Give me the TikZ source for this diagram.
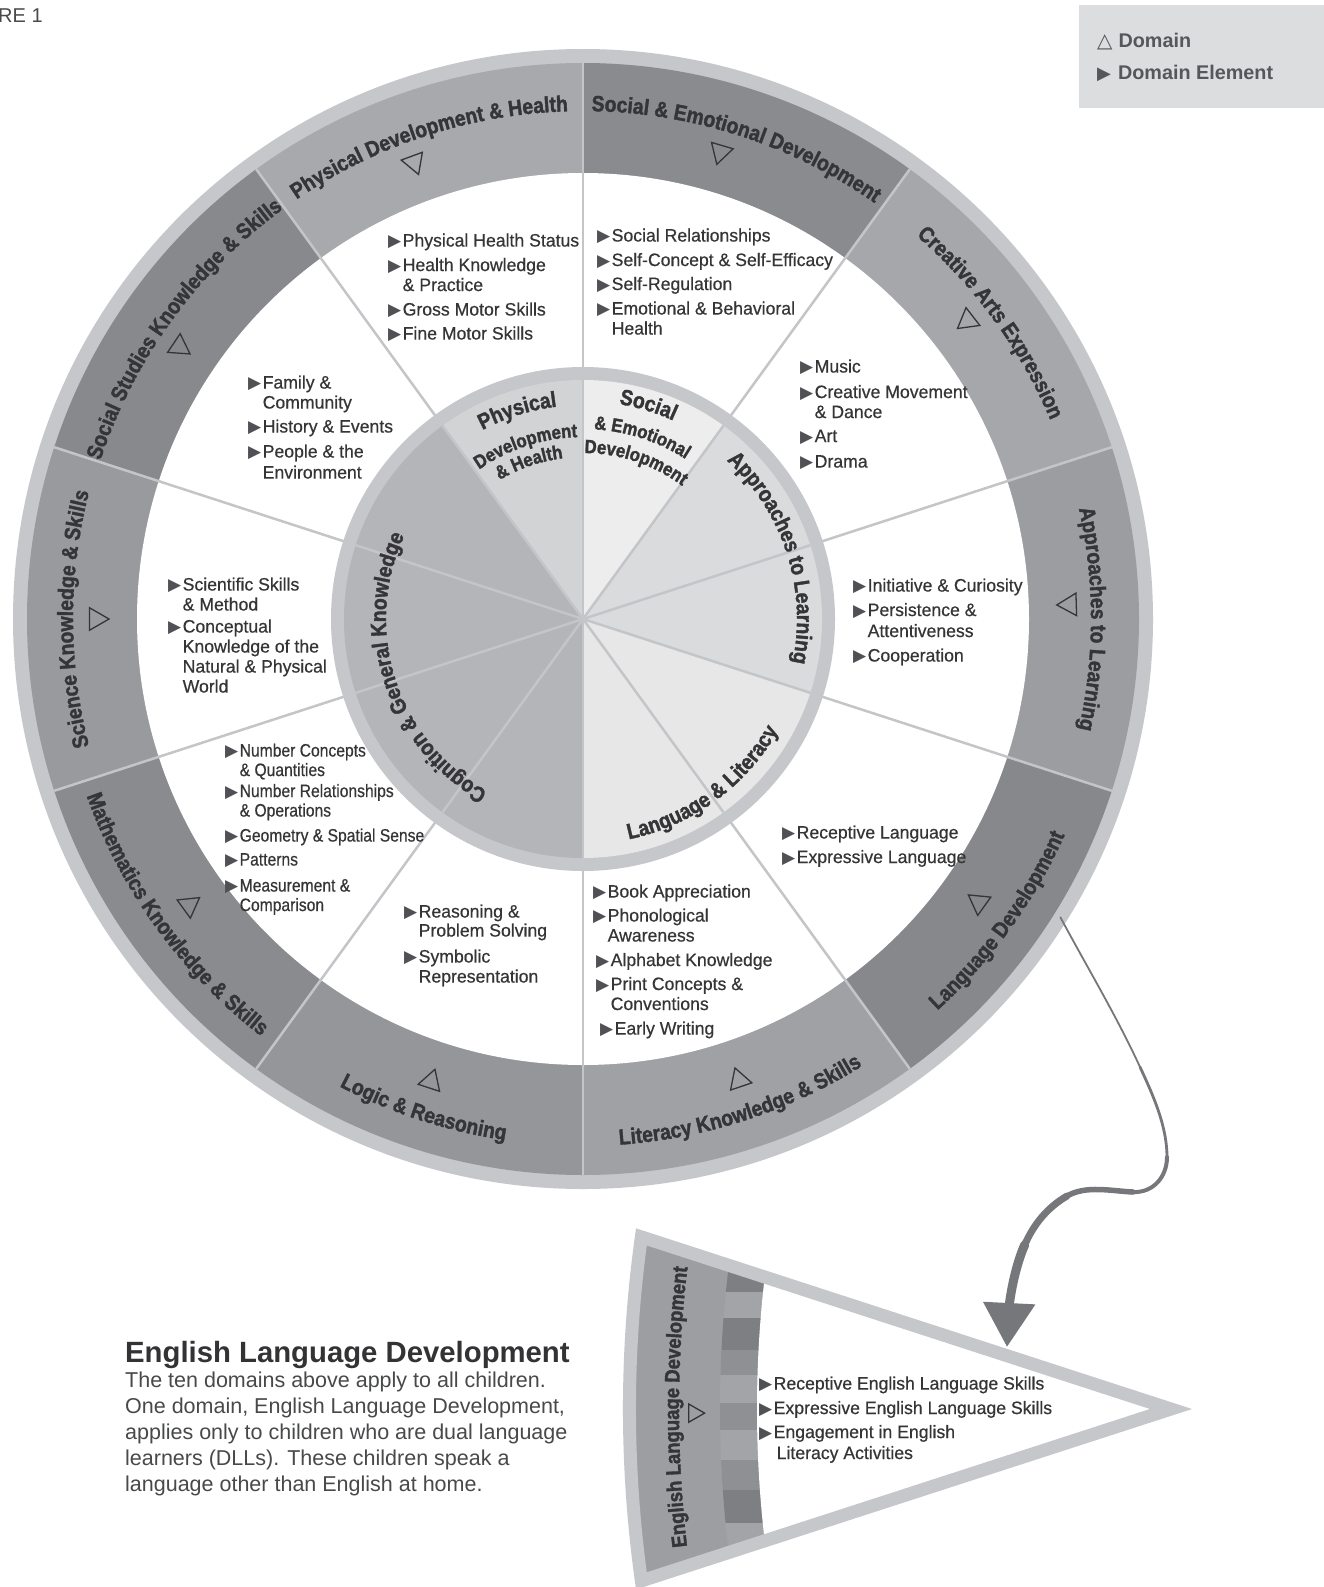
\documentclass[tikz,border=0pt]{standalone}
\usepackage{fontspec}
\setmainfont{Liberation Sans}
\newfontfamily\lblfam[FakeStretch=0.88,BoldFeatures={FakeBold=1.6}]{Liberation Sans}
\newfontfamily\elfam[FakeStretch=0.98,FakeBold=0.5]{Liberation Sans}
\newfontfamily\elnarrow[FakeStretch=0.87,FakeBold=0.5]{Liberation Sans}
\newfontfamily\symfam{DejaVu Sans}
\usetikzlibrary{shapes.geometric,arrows.meta}

\definecolor{txt}{HTML}{353537}
\definecolor{mkc}{HTML}{505154}
\definecolor{ringc}{HTML}{C6C7CA}
\definecolor{divc}{HTML}{C4C5C8}
\definecolor{legbg}{HTML}{DCDDDF}
\definecolor{legtx}{HTML}{56575A}
\definecolor{bPhys}{HTML}{A8A9AD}
\definecolor{bSoc}{HTML}{8A8B8F}
\definecolor{bCre}{HTML}{A6A7AB}
\definecolor{bApp}{HTML}{9C9DA1}
\definecolor{bLang}{HTML}{87888C}
\definecolor{bLit}{HTML}{A0A1A5}
\definecolor{bLog}{HTML}{95969A}
\definecolor{bMath}{HTML}{8A8B8F}
\definecolor{bSci}{HTML}{999A9E}
\definecolor{bSS}{HTML}{88898D}
\definecolor{pPhys}{HTML}{D2D3D5}
\definecolor{pSoc}{HTML}{EDEDEE}
\definecolor{pApp}{HTML}{DADBDD}
\definecolor{pLang}{HTML}{E7E7E8}
\definecolor{pCog}{HTML}{B4B5B8}
\definecolor{arrc}{HTML}{76777B}
\definecolor{wband}{HTML}{9D9EA2}
\definecolor{sdk}{HTML}{7E7F83}
\definecolor{smd}{HTML}{8F9094}
\definecolor{slt}{HTML}{A3A4A8}
\definecolor{headc}{HTML}{333335}
\definecolor{bodyc}{HTML}{48494B}
\definecolor{figc}{HTML}{4A4A4C}

\newcommand\lbl{\lblfam\bfseries\fontsize{22}{22}\selectfont}
\newcommand\lblm{\lblfam\bfseries\fontsize{19}{19}\selectfont}
\newcommand\lblw{\lblfam\bfseries\fontsize{21}{21}\selectfont}
\newcommand\mk{\makebox[14.5pt][l]{\color{mkc}\symfam\fontsize{17}{17}\selectfont ▶}}
\newcommand\ind{\hspace*{14.5pt}}
\newcommand\fst{\rule{0pt}{13pt}}

% curved text: #1 centre angle, #2 baseline radius, #3 font, #4 1 = clockwise (tops outward) / -1 = counter-clockwise (tops inward), #5 text (~ = space)
\newdimen\arctot
\newdimen\arcch
\makeatletter
\newcommand\arclabel[5]{%
  \begingroup
  \pgfinterruptpicture\setbox0=\hbox{#3#5}\global\arctot=\wd0 \endpgfinterruptpicture
  \pgfmathsetmacro\arck{57.29578/#2}%
  \pgfmathsetmacro\arcpos{#1+(#4)*0.5*\arctot*\arck}%
  \@tfor\arcc:=#5\do{%
    \pgfinterruptpicture\setbox0=\hbox{#3\arcc}\global\arcch=\wd0 \endpgfinterruptpicture
    \pgfmathsetmacro\arcmid{\arcpos-(#4)*0.5*\arcch*\arck}%
    \pgfmathsetmacro\arcrot{\arcmid-(#4)*90}%
    \pgftext[base,at={\pgfpointpolar{\arcmid}{#2pt}},rotate=\arcrot]{#3\color{txt}\arcc}%
    \pgfmathsetmacro\arcpos{\arcpos-(#4)*\arcch*\arck}%
  }%
  \endgroup
}
\makeatother

\tikzset{
 divline/.style={draw=divc, line width=2.5pt},
 domtri/.style={draw=txt, line width=1.3pt, regular polygon, regular polygon sides=3, minimum size=26pt, inner sep=0pt},
 elist/.style={anchor=north west, inner sep=0pt, align=left, text=txt, font=\elfam\fontsize{18}{20}\selectfont},
 arr/.style={draw=arrc, line cap=round},
 legtxt/.style={anchor=base west, inner sep=0pt, text=legtx, font=\bfseries\fontsize{19.8}{19.8}\selectfont},
}

\begin{document}
\begin{tikzpicture}[x=1pt,y=1pt]
\useasboundingbox (0,0) rectangle (1324,-1587);
\clip (0,0) rectangle (1324,-1587);
\fill[white] (0,0) rectangle (1324,-1587);

\node[anchor=base west, inner sep=0pt, text=figc, font=\fontsize{20}{20}\selectfont] (fig) at (-2,-23) {RE 1};

% legend
\fill[legbg] (1079,-5) rectangle (1324,-108);
\node[legtxt] (legDomain) at (1097,-48) {{\symfam\fontsize{20}{20}\selectfont △}\hspace{6pt}Domain};
\node[legtxt] (legElem) at (1097,-80) {{\symfam\fontsize{18}{18}\selectfont ▶}\hspace{7pt}Domain Element};

% ===== wheel =====
\begin{scope}[shift={(583,-619)}]
\coordinate (C) at (0,0);
\fill[ringc] (0,0) circle[radius=570];
\fill[bPhys] (0,0) -- (90:556) arc[start angle=90,end angle=126,radius=556] -- cycle;
\fill[bSoc] (0,0) -- (54:556) arc[start angle=54,end angle=90,radius=556] -- cycle;
\fill[bCre] (0,0) -- (18:556) arc[start angle=18,end angle=54,radius=556] -- cycle;
\fill[bApp] (0,0) -- (-18:556) arc[start angle=-18,end angle=18,radius=556] -- cycle;
\fill[bLang] (0,0) -- (-54:556) arc[start angle=-54,end angle=-18,radius=556] -- cycle;
\fill[bLit] (0,0) -- (-90:556) arc[start angle=-90,end angle=-54,radius=556] -- cycle;
\fill[bLog] (0,0) -- (234:556) arc[start angle=234,end angle=270,radius=556] -- cycle;
\fill[bMath] (0,0) -- (198:556) arc[start angle=198,end angle=234,radius=556] -- cycle;
\fill[bSci] (0,0) -- (162:556) arc[start angle=162,end angle=198,radius=556] -- cycle;
\fill[bSS] (0,0) -- (126:556) arc[start angle=126,end angle=162,radius=556] -- cycle;
\fill[white] (0,0) circle[radius=446];
\foreach \a in {18,54,...,342} \draw[divline] (0,0) -- (\a:556);

\fill[ringc] (0,0) circle[radius=252];
\fill[pPhys] (0,0) -- (90:239) arc[start angle=90,end angle=126,radius=239] -- cycle;
\fill[pSoc] (0,0) -- (54:239) arc[start angle=54,end angle=90,radius=239] -- cycle;
\fill[pApp] (0,0) -- (-18:239) arc[start angle=-18,end angle=54,radius=239] -- cycle;
\fill[pLang] (0,0) -- (-90:239) arc[start angle=-90,end angle=-18,radius=239] -- cycle;
\fill[pCog] (0,0) -- (126:239) arc[start angle=126,end angle=270,radius=239] -- cycle;
\foreach \a in {18,54,...,342} \draw[divline] (0,0) -- (\a:239);

% domain triangles
\node[domtri, rotate=200.3] (tPhys) at (110.3:487) {};
\node[domtri, rotate=163.6] (tSoc) at (73.6:487) {};
\node[domtri, rotate=127.8] (tCre) at (37.8:487) {};
\node[domtri, rotate=91.7] (tApp) at (1.7:487) {};
\node[domtri, rotate=54.4] (tLang) at (-35.6:487) {};
\node[domtri, rotate=18.7] (tLit) at (-71.3:487) {};
\node[domtri, rotate=341.8] (tLog) at (251.8:487) {};
\node[domtri, rotate=306] (tMath) at (216:487) {};
\node[domtri, rotate=270] (tSci) at (180:487) {};
\node[domtri, rotate=236] (tSS) at (146:487) {};

% outer domain labels
\arclabel{108}{508}{\lbl}{1}{Physical~Development~\&~Health}
\arclabel{72}{508}{\lbl}{1}{Social~\&~Emotional~Development}
\arclabel{36}{508}{\lbl}{1}{Creative~Arts~Expression}
\arclabel{0}{508}{\lbl}{1}{Approaches~to~Learning}
\arclabel{-36}{528}{\lbl}{-1}{Language~Development}
\arclabel{-72}{527}{\lbl}{-1}{Literacy~Knowledge~\&~Skills}
\arclabel{252}{527}{\lbl}{-1}{Logic~\&~Reasoning}
\arclabel{216}{527}{\lbl}{-1}{Mathematics~Knowledge~\&~Skills}
\arclabel{180}{510}{\lbl}{1}{Science~Knowledge~\&~Skills}
\arclabel{144}{508}{\lbl}{1}{Social~Studies~Knowledge~\&~Skills}

% central labels
\arclabel{107.5}{214}{\lbl}{1}{Physical}
\arclabel{108.3}{182}{\lblm}{1}{Development}
\arclabel{109}{162}{\lblm}{1}{\&~Health}
\arclabel{73}{218}{\lbl}{1}{Social}
\arclabel{72}{190}{\lblm}{1}{\&~Emotional}
\arclabel{71.4}{166}{\lblm}{1}{Development}
\arclabel{18}{214}{\lbl}{1}{Approaches~to~Learning}
\arclabel{-54}{225}{\lbl}{-1}{Language~\&~Literacy}
\arclabel{198}{197}{\lbl}{1}{Cognition~\&~General~Knowledge}
\end{scope}

% ===== element lists =====
\node[elist] (elPhys) at (388,-233.3) {\fst\mk Physical Health Status\\[4.5pt]\mk Health Knowledge\\\ind\& Practice\\[4.5pt]\mk Gross Motor Skills\\[4pt]\mk Fine Motor Skills};
\node[elist] (elSoc) at (597,-228.3) {\fst\mk Social Relationships\\[4.5pt]\mk Self-Concept \& Self-Efficacy\\[4pt]\mk Self-Regulation\\[4.5pt]\mk Emotional \& Behavioral\\\ind Health};
\node[elist] (elCre) at (800,-359.3) {\fst\mk Music\\[5.5pt]\mk Creative Movement\\\ind\& Dance\\[4pt]\mk Art\\[5.5pt]\mk Drama};
\node[elist] (elApp) at (853,-578.3) {\fst\mk Initiative \& Curiosity\\[4.5pt]\mk Persistence \&\\[1pt]\ind Attentiveness\\[4.5pt]\mk Cooperation};
\node[elist] (elLang) at (782,-825.3) {\fst\mk Receptive Language\\[4.5pt]\mk Expressive Language};
\node[elist] (elLit) at (593,-884.3) {\fst\mk Book Appreciation\\[4pt]\mk Phonological\\\ind Awareness\\[4.5pt]\hspace*{3pt}\mk Alphabet Knowledge\\[4pt]\hspace*{3pt}\mk Print Concepts \&\\\hspace*{3pt}\ind Conventions\\[4.5pt]\hspace*{7pt}\mk Early Writing};
\node[elist] (elLog) at (404,-904.3) {\fst\mk Reasoning \&\\[-1pt]\ind Problem Solving\\[6pt]\mk Symbolic\\\ind Representation};
\node[elist, font=\elnarrow\fontsize{18}{19.5}\selectfont] (elMath) at (225,-743.3) {\fst\mk Number Concepts\\\ind\& Quantities\\[1.5pt]\mk Number Relationships\\\ind\& Operations\\[5.5pt]\mk Geometry \& Spatial Sense\\[4.5pt]\mk Patterns\\[6.5pt]\mk Measurement \&\\\ind Comparison};
\node[elist] (elSci) at (168,-577.3) {\fst\mk Scientific Skills\\\ind\& Method\\[2pt]\mk Conceptual\\\ind Knowledge of the\\\ind Natural \& Physical\\\ind World};
\node[elist] (elSS) at (248,-375.3) {\fst\mk Family \&\\\ind Community\\[4pt]\mk History \& Events\\[5pt]\mk People \& the\\[1pt]\ind Environment};

% ===== ELD wedge =====
\coordinate (Wa) at (1171,-1409);
\coordinate (Wc) at (1873,-1409);
\begin{scope}
  \clip (1171,-1409) -- (410.2,-1161.8) -- (410.2,-1656.2) -- cycle;
  \fill[wband] (Wc) circle[radius=1243.5];
  \begin{scope}
    \clip (Wc) circle[radius=1153];
    \fill[sdk] (690,-1250) rectangle (790,-1292);
    \fill[slt] (690,-1292) rectangle (790,-1318);
    \fill[sdk] (690,-1318) rectangle (790,-1350);
    \fill[smd] (690,-1350) rectangle (790,-1375);
    \fill[slt] (690,-1375) rectangle (790,-1403);
    \fill[smd] (690,-1403) rectangle (790,-1430);
    \fill[slt] (690,-1430) rectangle (790,-1460);
    \fill[smd] (690,-1460) rectangle (790,-1490);
    \fill[sdk] (690,-1490) rectangle (790,-1523);
    \fill[slt] (690,-1523) rectangle (790,-1570);
  \end{scope}
  \fill[white] (Wc) circle[radius=1116];
\end{scope}
\draw[draw=ringc, line width=13pt, line join=miter] (Wa) -- (641.4,-1236.9) arc[start angle=172.05,end angle=187.95,radius=1243.5] -- cycle;
\begin{scope}[shift={(1873,-1409)}]
  \arclabel{179.9}{1194}{\lblw}{1}{English~Language~Development}
  \node[domtri, minimum size=21pt, rotate=270] (tEld) at (180.2:1179) {};
\end{scope}
\node[elist] (elEld) at (759,-1376.3) {\fst\mk Receptive English Language Skills\\[4.5pt]\mk Expressive English Language Skills\\[4pt]\mk Engagement in English\\[1pt]\hspace*{3pt}\ind Literacy Activities};

% ===== connector =====
\coordinate (ar0) at (1060.4,-917.3);
\coordinate (ar1) at (1140,-1067);
\coordinate (ar2) at (1167,-1157);
\coordinate (ar3) at (1133,-1192);
\coordinate (ar4) at (1067,-1196);
\coordinate (ar5) at (1024.7,-1244.8);
\coordinate (ar6) at (1007,-1347);
\draw[arr, line width=1.8pt] (ar0) .. controls (1087,-967) and (1116,-1015) .. (ar1);
\draw[arr, line width=2.8pt] (ar1) .. controls (1153,-1095) and (1167,-1126) .. (ar2);
\draw[arr, line width=4pt] (ar2) .. controls (1167,-1177) and (1153,-1193) .. (ar3);
\draw[arr, line width=5.5pt] (ar3) .. controls (1111,-1191) and (1086,-1185) .. (ar4);
\draw[arr, line width=7pt] (ar4) .. controls (1046.6,-1208) and (1033.4,-1225) .. (ar5);
\draw[arr, line width=9pt, -{Triangle[width=50pt,length=44pt]}] (ar5) .. controls (1011.7,-1274.6) and (1008.8,-1311) .. (ar6);

% ===== note =====
\node[anchor=base west, inner sep=0pt, text=headc, font=\bfseries\fontsize{29.3}{29.3}\selectfont] (eldHead) at (125,-1362) {English Language Development};
\node[anchor=north west, inner sep=0pt, align=left, text=bodyc, font=\fontsize{21.5}{26}\selectfont] (eldBody) at (125,-1371.5) {\rule{0pt}{15.5pt}The ten domains above apply to all children.\\One domain, English Language Development,\\applies only to children who are dual language\\learners (DLLs). These children speak a\\language other than English at home.};
\end{tikzpicture}
\end{document}
